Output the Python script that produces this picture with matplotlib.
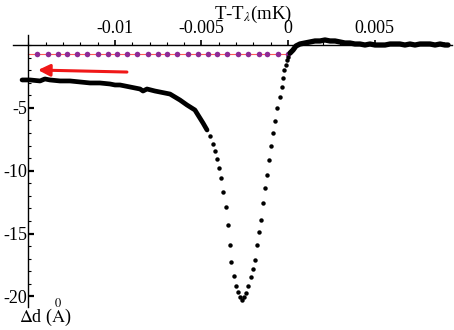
import matplotlib
matplotlib.use("Agg")
import matplotlib.pyplot as plt
from matplotlib.ticker import FixedLocator

plt.rcParams['font.family'] = 'serif'
plt.rcParams['font.serif'] = ['Liberation Serif', 'DejaVu Serif']
plt.rcParams['mathtext.fontset'] = 'stix'
plt.rcParams['axes.unicode_minus'] = False

# temperature relative to the lambda point (mK) and thickness change (Angstrom)
left_t = [-0.01537, -0.01491, -0.01433, -0.01405, -0.01376, -0.01318, -0.01260,
          -0.01202, -0.01144, -0.01087, -0.01029, -0.01000, -0.00971, -0.00913,
          -0.00855, -0.00838, -0.00815, -0.00769, -0.00711, -0.00682, -0.00653,
          -0.00624, -0.00584, -0.00538, -0.00520, -0.00491, -0.00468]
left_d = [-2.78, -2.78, -2.86, -2.70, -2.78, -2.86, -2.86,
          -2.94, -3.02, -3.02, -3.10, -3.18, -3.18, -3.34,
          -3.50, -3.66, -3.50, -3.66, -3.82, -3.90, -4.14,
          -4.38, -4.77, -5.17, -5.57, -6.21, -6.76]

dip_t = [-0.00451, -0.00434, -0.00422, -0.00410, -0.00399, -0.00387, -0.00376,
         -0.00358, -0.00347, -0.00335, -0.00329, -0.00312, -0.00301, -0.00289,
         -0.00277, -0.00266, -0.00254, -0.00243, -0.00231, -0.00214, -0.00202,
         -0.00191, -0.00179, -0.00168, -0.00156, -0.00145, -0.00133, -0.00121,
         -0.00110, -0.00098, -0.00087, -0.00075, -0.00064, -0.00046, -0.00035,
         -0.00029, -0.00023, -0.00012, -0.00006, 0.0]
dip_d = [-7.24, -7.88, -8.43, -9.07, -9.79, -10.58, -11.69,
         -12.89, -14.32, -15.91, -17.26, -18.38, -19.17, -19.65,
         -20.05, -20.29, -20.05, -19.73, -19.17, -18.46, -17.82,
         -17.10, -15.91, -14.88, -13.92, -12.57, -11.38, -10.34,
         -9.15, -8.04, -7.00, -6.05, -5.01, -4.14, -3.34,
         -2.63, -1.99, -1.59, -1.19, -0.95]

right_t = [0.00012, 0.00029, 0.00046, 0.00069, 0.00098, 0.00127, 0.00156,
           0.00185, 0.00214, 0.00243, 0.00272, 0.00301, 0.00329, 0.00358,
           0.00387, 0.00416, 0.00445, 0.00474, 0.00503, 0.00532, 0.00561,
           0.00590, 0.00618, 0.00647, 0.00676, 0.00705, 0.00734, 0.00763,
           0.00792, 0.00821, 0.00850, 0.00879, 0.00907, 0.00925]
right_d = [-0.64, -0.40, -0.08, 0.08, 0.16, 0.24, 0.32,
           0.32, 0.40, 0.32, 0.32, 0.24, 0.16, 0.16,
           0.08, 0.08, 0.0, 0.08, 0.0, 0.0, 0.0,
           0.08, 0.08, 0.08, 0.0, 0.08, 0.0, 0.08,
           0.08, 0.08, 0.0, 0.08, 0.0, 0.0]

# reference level (purple points)
ref_t = [-0.0145, -0.0139, -0.0133, -0.0128, -0.0122, -0.0116, -0.0110,
         -0.0104, -0.0099, -0.0093, -0.0087, -0.0081, -0.0075, -0.0070,
         -0.0064, -0.0058, -0.0052, -0.0046, -0.0041, -0.0035, -0.0029,
         -0.0023, -0.0017, -0.0012, -0.0006, 0.0]
ref_level = -0.72
ref_d = [ref_level] * len(ref_t)

x_major = [-0.01, -0.005, 0, 0.005]
x_labels = ['-0.01', '-0.005', '0', '0.005']
x_minor = [i / 1000 for i in range(-15, 10)]
y_major = [-5, -10, -15, -20]
y_labels = ['-5', '-10', '-15', '-20']
y_minor = list(range(-20, 1))

y_axis_t = -0.015

fig = plt.figure(figsize=(4.54, 3.30), dpi=100)
ax = fig.add_axes([0, 0, 1, 1])
ax.set_xlim(-0.016646, 0.009595)
ax.set_ylim(-22.67, 3.58)

# axes through the origin
for s in ['right', 'bottom']:
    ax.spines[s].set_visible(False)
ax.spines['top'].set_position(('data', 0))
ax.spines['top'].set_bounds(-0.0159, 0.00948)
ax.spines['left'].set_position(('data', y_axis_t))
ax.spines['left'].set_bounds(-20.84, 0.8)
ax.spines['top'].set_linewidth(1.0)
ax.spines['left'].set_linewidth(1.0)

ax.xaxis.set_ticks_position('top')
ax.xaxis.set_major_locator(FixedLocator(x_major))
ax.xaxis.set_minor_locator(FixedLocator(x_minor))
ax.set_xticklabels(x_labels)
ax.tick_params(axis='x', which='major', direction='out', length=3.5, width=1.2,
               labelsize=13, pad=2.5)
ax.tick_params(axis='x', which='minor', direction='out', length=2, width=0.8)

ax.yaxis.set_major_locator(FixedLocator(y_major))
ax.yaxis.set_minor_locator(FixedLocator(y_minor))
ax.set_yticklabels(y_labels)
ax.tick_params(axis='y', which='major', direction='in', length=4, width=1.6,
               labelsize=13, pad=1)
ax.tick_params(axis='y', which='minor', direction='in', length=2.5, width=0.8)

# reference level
ax.plot([y_axis_t, ref_t[-1]], [ref_level, ref_level], color='#ff5a5a', lw=0.8, zorder=2)
ax.plot(ref_t, ref_d, 'o', color='#8e2a96', ms=4, mec='none', zorder=3)

# measured thickness
ax.plot(left_t, left_d, '-', color='black', lw=3.4, solid_capstyle='round', zorder=4)
ax.plot(right_t, right_d, '-', color='black', lw=3.8, solid_capstyle='round', zorder=4)
ax.plot(dip_t, dip_d, 'o', color='black', ms=3.2, mec='none', zorder=4)

ax.annotate('', xy=(-0.01445, -1.99), xytext=(-0.00931, -2.15),
            arrowprops=dict(arrowstyle='-|>,head_length=0.7,head_width=0.35',
                            color='#f01818', lw=2.2, shrinkA=0, shrinkB=0))

ax.text(-0.0020, 2.4, r'T-T$_\lambda$(mK)', fontsize=13.5, ha='center', va='center')
ax.text(-0.0140, -22.6, r'$\Delta$d ($\overset{0}{\mathrm{A}}$)', fontsize=13,
        ha='center', va='bottom')

fig.savefig('out.png', dpi=100)
